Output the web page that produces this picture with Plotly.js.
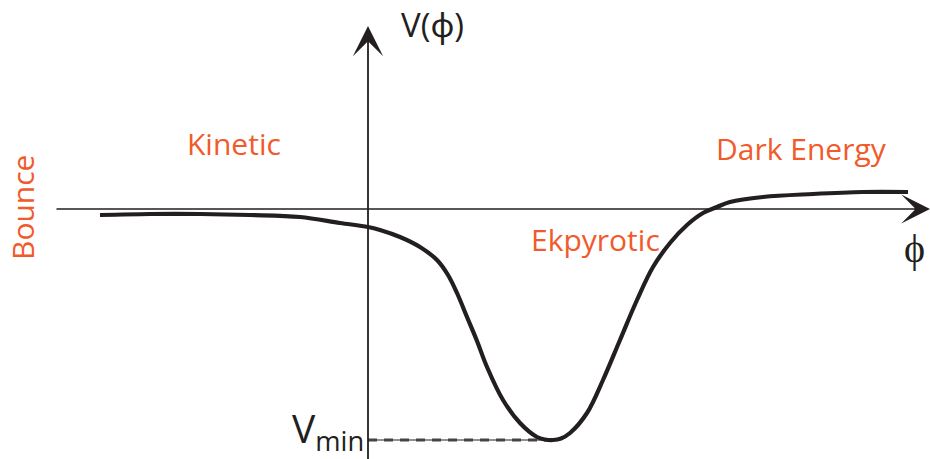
<!DOCTYPE html>
<html>
<head>
<meta charset="utf-8">
<script src="https://cdn.plot.ly/plotly-3.0.1.min.js"></script>
<style>
  html, body { margin: 0; padding: 0; background: #fff; }
  #chart { width: 930px; height: 459px; }
</style>
</head>
<body>
<div id="chart"></div>
<script>
// potential V(phi)
const phi = [-2.68, -2.18, -1.68, -1.18, -0.68, -0.28, 0.00, 0.12, 0.32, 0.52, 0.69, 0.80, 0.89, 0.99, 1.09,
             1.19, 1.35, 1.52, 1.69, 1.77, 1.85, 1.93, 2.02, 2.19, 2.35, 2.52, 2.69, 2.85, 3.02, 3.19, 3.35, 3.49,
             3.62, 3.95, 4.45, 4.95, 5.40];
const V   = [-0.06, -0.05, -0.05, -0.06, -0.08, -0.14, -0.18, -0.21, -0.28, -0.38, -0.51, -0.66, -0.84, -1.08, -1.32,
             -1.58, -1.91, -2.14, -2.28, -2.305, -2.31, -2.295, -2.24, -2.04, -1.71, -1.31, -0.91, -0.58, -0.34, -0.16, -0.04, 0.02,
             0.07, 0.12, 0.15, 0.17, 0.17];

const phiMin = 1.85;
const Vmin = -2.31;

// region labels
const regions = ['Kinetic', 'Dark Energy', 'Ekpyrotic', 'Bounce'];

const ink = '#231f20';
const orange = '#f15a2b';
const sans = '"Open Sans", "Noto Sans", sans-serif';

// pixel -> paper helpers (plot fills the page)
const W = 930, H = 459;
function px(x) { return x / W; }
function py(y) { return 1 - y / H; }

const traces = [
  {
    x: [0, phiMin], y: [Vmin, Vmin],
    mode: 'lines', line: {color: ink, width: 1}, hoverinfo: 'skip'
  },
  {
    x: [0, phiMin], y: [Vmin, Vmin],
    mode: 'lines', line: {color: '#444', width: 3, dash: '9px,7px'}, hoverinfo: 'skip'
  },
  {
    x: phi, y: V,
    mode: 'lines',
    line: {color: ink, width: 4.2, shape: 'spline', smoothing: 1.0},
    hoverinfo: 'skip'
  }
];

const annotations = [
  // phi axis
  {x: 5.62, y: 0, ax: -3.13, ay: 0, xref: 'x', yref: 'y', axref: 'x', ayref: 'y',
   text: '', showarrow: true, arrowhead: 3, arrowsize: 3, arrowwidth: 1.6, arrowcolor: ink},
  // V axis
  {x: 0, y: 1.83, ax: 0, ay: -2.6, xref: 'x', yref: 'y', axref: 'x', ayref: 'y',
   text: '', showarrow: true, arrowhead: 3, arrowsize: 2.8, arrowwidth: 1.8, arrowcolor: ink},
  {x: px(432), y: py(24), xref: 'paper', yref: 'paper', text: 'V(ϕ)', showarrow: false,
   xanchor: 'center', yanchor: 'middle', font: {family: sans, size: 33, color: ink}},
  {x: px(914), y: py(248), xref: 'paper', yref: 'paper', text: 'ϕ', showarrow: false,
   xanchor: 'center', yanchor: 'middle', font: {family: '"Liberation Serif", serif', size: 40, color: ink}},
  {x: px(366), y: py(430), xref: 'paper', yref: 'paper', text: 'V<sub>min</sub>', showarrow: false,
   xanchor: 'right', yanchor: 'middle', font: {family: sans, size: 39, color: ink}},
  {x: px(234), y: py(143), xref: 'paper', yref: 'paper', text: regions[0], showarrow: false,
   xanchor: 'center', yanchor: 'middle', font: {family: sans, size: 30, color: orange}},
  {x: px(801), y: py(148), xref: 'paper', yref: 'paper', text: regions[1], showarrow: false,
   xanchor: 'center', yanchor: 'middle', font: {family: sans, size: 30, color: orange}},
  {x: px(595), y: py(239), xref: 'paper', yref: 'paper', text: regions[2], showarrow: false,
   xanchor: 'center', yanchor: 'middle', font: {family: sans, size: 30, color: orange}},
  {x: px(22), y: py(208), xref: 'paper', yref: 'paper', text: regions[3], showarrow: false,
   textangle: -90, xanchor: 'center', yanchor: 'middle', font: {family: sans, size: 30, color: orange}}
];

const layout = {
  width: W, height: H,
  margin: {l: 0, r: 0, t: 0, b: 0},
  paper_bgcolor: '#fff', plot_bgcolor: '#fff',
  showlegend: false,
  xaxis: {range: [-3.68, 5.62], visible: false, fixedrange: true},
  yaxis: {range: [-2.50, 2.09], visible: false, fixedrange: true},
  annotations: annotations
};

Plotly.newPlot('chart', traces, layout, {staticPlot: true});
</script>
</body>
</html>
